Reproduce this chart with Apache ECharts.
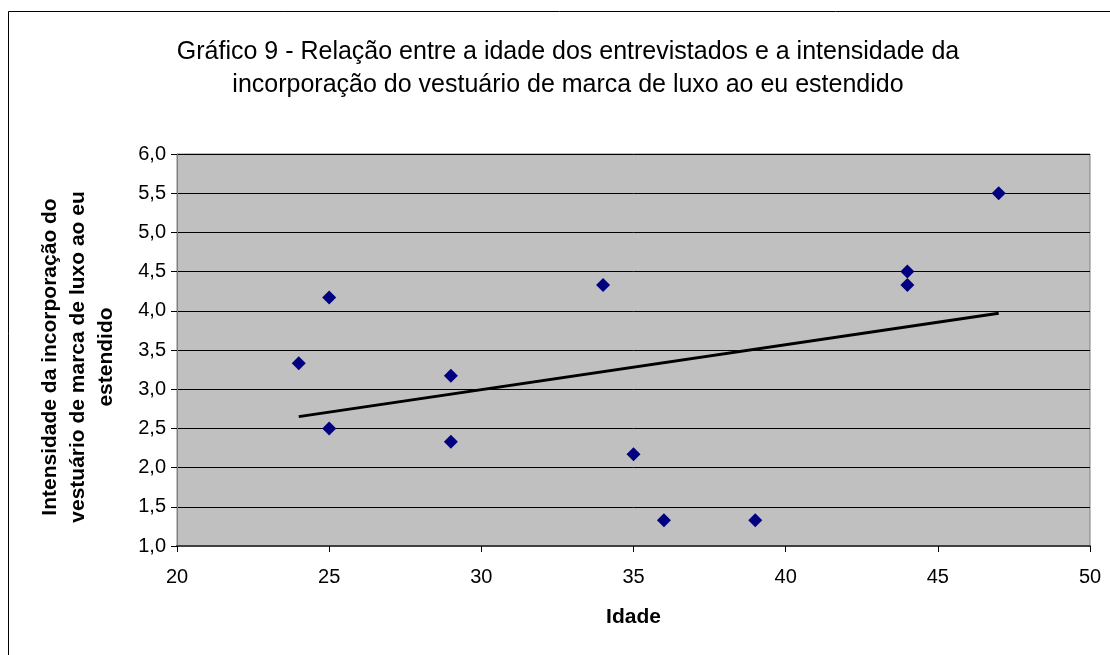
<!DOCTYPE html>
<html>
<head>
<meta charset="utf-8">
<script src="https://cdn.jsdelivr.net/npm/echarts@6/dist/echarts.min.js"></script>
<style>html,body{margin:0;padding:0;background:#fff}#c{width:1110px;height:655px}</style>
</head>
<body>
<div id="c"></div>
<script>
const ages = [24, 25, 25, 29, 29, 34, 35, 36, 39, 44, 44, 47];
const intensities = [3.33, 4.17, 2.5, 3.17, 2.33, 4.33, 2.17, 1.33, 1.33, 4.5, 4.33, 5.5];
const trendX = [24, 47];
const trendY = [2.65, 3.97];
const titleLines = ['Gráfico 9 - Relação entre a idade dos entrevistados e a intensidade da', 'incorporação do vestuário de marca de luxo ao eu estendido'];
const xName = 'Idade';
const yNameLines = ['Intensidade da incorporação do', 'vestuário de marca de luxo ao eu', 'estendido'];

const chart = echarts.init(document.getElementById('c'), null, {renderer: 'canvas'});
const font = '"Liberation Sans", Arial, sans-serif';
chart.setOption({
  animation: false,
  backgroundColor: '#fff',
  textStyle: {fontFamily: font},
  title: {
    text: titleLines.join('\n'),
    left: 563, top: 31, textAlign: 'center',
    textStyle: {fontFamily: font, fontSize: 25, fontWeight: 'normal', color: '#000', lineHeight: 33}
  },
  graphic: [{
    type: 'rect', silent: true, z: -1,
    shape: {x: 8.5, y: 11.5, width: 1200, height: 800},
    style: {fill: null, stroke: '#000', lineWidth: 1}
  }],
  grid: {left: 177, right: 20, top: 154, bottom: 109, show: true, backgroundColor: '#c0c0c0', borderColor: '#808080', borderWidth: 1},
  xAxis: {
    type: 'value', min: 20, max: 50, interval: 5,
    name: xName, nameLocation: 'middle', nameGap: 61,
    nameTextStyle: {fontFamily: font, fontSize: 21, fontWeight: 'bold', color: '#000'},
    axisLine: {show: true, onZero: false, lineStyle: {color: '#404040', width: 2}},
    axisTick: {show: true, inside: false, length: 6, lineStyle: {color: '#000'}},
    axisLabel: {fontFamily: font, fontSize: 20, color: '#000', margin: 21},
    splitLine: {show: false}
  },
  yAxis: {
    type: 'value', min: 1, max: 6, interval: 0.5,
    name: yNameLines.join('\n'), nameLocation: 'middle', nameGap: 57, nameRotate: 90,
    nameTextStyle: {fontFamily: font, fontSize: 21, fontWeight: 'bold', color: '#000', lineHeight: 28, align: 'center', padding: [0, 14, 0, 0]},
    axisLine: {show: true, onZero: false, lineStyle: {color: '#808080', width: 1}},
    axisTick: {show: true, inside: false, length: 6, lineStyle: {color: '#000'}},
    axisLabel: {fontFamily: font, fontSize: 20, color: '#000', margin: 11, formatter: v => v.toFixed(1).replace('.', ',')},
    splitLine: {show: true, lineStyle: {color: '#000', width: 1}}
  },
  series: [{
    type: 'scatter',
    data: ages.map((a, i) => [a, intensities[i]]),
    symbol: 'diamond', symbolSize: 14,
    itemStyle: {color: '#000080', opacity: 1},
    z: 3
  }, {
    type: 'line',
    data: trendX.map((x, i) => [x, trendY[i]]),
    symbol: 'none',
    lineStyle: {color: '#000', width: 3},
    z: 2
  }]
});
</script>
</body>
</html>
